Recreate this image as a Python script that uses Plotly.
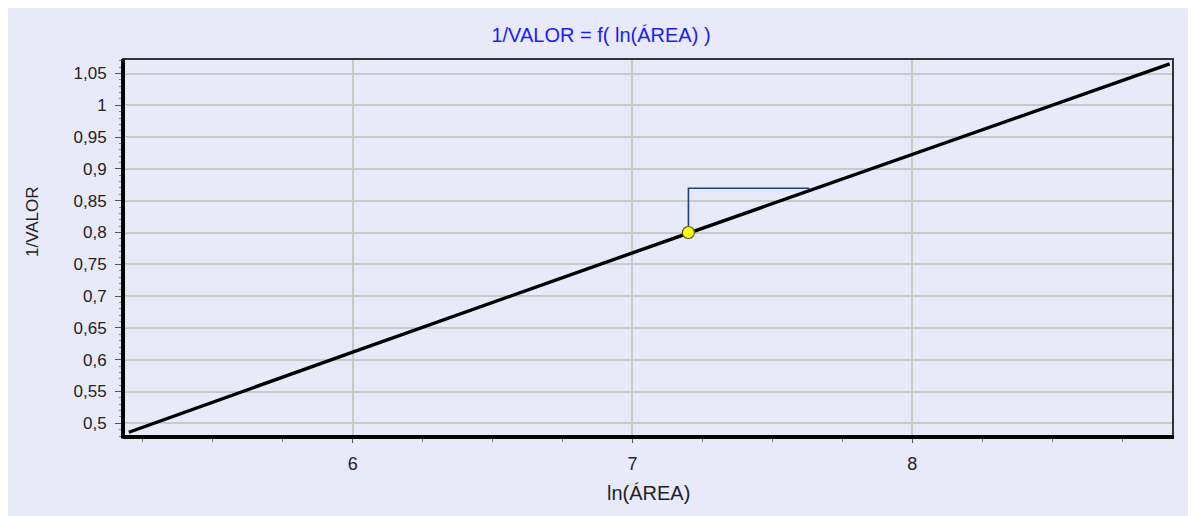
import plotly.graph_objects as go

# ---- data ----
line_x = [5.20, 6.0, 7.0, 8.0, 8.92]
line_y = [0.486, 0.612, 0.768, 0.923, 1.065]

point_x = [7.2]
point_y = [0.800]

bracket_x = [7.2, 7.2, 7.632]
bracket_y = [0.800, 0.8695, 0.8695]

x_tickvals = [6, 7, 8]
x_ticktext = ["6", "7", "8"]
y_tickvals = [0.5, 0.55, 0.6, 0.65, 0.7, 0.75, 0.8, 0.85, 0.9, 0.95, 1.0, 1.05]
y_ticktext = ["0,5", "0,55", "0,6", "0,65", "0,7", "0,75", "0,8", "0,85", "0,9", "0,95", "1", "1,05"]

title_text = "1/VALOR = f( ln(ÁREA) )"
x_title = "ln(ÁREA)"
y_title = "1/VALOR"

# ---- layout geometry (window pixels); the page body adds an 8px offset ----
OFF = 8
WIN_W, WIN_H = 1196, 516
W, H = WIN_W - OFF, WIN_H - OFF
L, R, T, B = 123, 1173, 59, 437
pw, ph = R - L, B - T


def px_x(p):
    return (p - L) / pw


def px_y(p):
    return (B - p) / ph


BG = "#E8EAFA"
FONT = "Liberation Sans"

fig = go.Figure()

fig.add_trace(go.Scatter(x=bracket_x, y=bracket_y, mode="lines",
                         line=dict(color="#1F3F78", width=1.6),
                         hoverinfo="skip", showlegend=False))
fig.add_trace(go.Scatter(x=line_x, y=line_y, mode="lines",
                         line=dict(color="#000000", width=3.4),
                         showlegend=False))
fig.add_trace(go.Scatter(x=point_x, y=point_y, mode="markers",
                         marker=dict(color="#FFFF00", size=12, symbol="circle",
                                     line=dict(color="#5A5A30", width=1.2)),
                         showlegend=False))

fig.update_layout(
    width=W, height=H,
    margin=dict(l=L - OFF, r=WIN_W - R, t=T - OFF, b=WIN_H - B, pad=0),
    paper_bgcolor=BG, plot_bgcolor=BG,
    font=dict(family=FONT, size=17, color="#222222"),
    title=dict(text=title_text, x=(601 - OFF) / W, xanchor="center",
               y=1 - (35 - OFF) / H, yanchor="middle",
               font=dict(family=FONT, size=20, color="#1C1CF5")),
    showlegend=False,
    xaxis=dict(range=[5.179, 8.932], tickmode="array", tickvals=x_tickvals,
               ticktext=x_ticktext, ticks="outside", ticklen=5, tickwidth=1.2,
               tickcolor="#555555", showgrid=True, gridcolor="#C9C9C9", gridwidth=2,
               zeroline=False, showline=False, ticklabelstandoff=5,
               minor=dict(dtick=0.25, tick0=5, ticks="outside", ticklen=4,
                          tickcolor="#777777", showgrid=False),
               tickfont=dict(size=18, color="#222222")),
    yaxis=dict(range=[0.4785, 1.0728], tickmode="array", tickvals=y_tickvals,
               ticktext=y_ticktext, ticks="outside", ticklen=7, tickwidth=1.2,
               tickcolor="#555555", showgrid=True, gridcolor="#C9C9C9", gridwidth=2,
               zeroline=False, showline=False, ticklabelstandoff=5,
               minor=dict(dtick=0.01, tick0=0.5, ticks="outside", ticklen=3,
                          tickcolor="#888888", showgrid=False),
               tickfont=dict(size=17, color="#222222")),
)

# plot frame: thin top/right, thick left/bottom
fig.add_shape(type="rect", xref="paper", yref="paper", x0=0, x1=1, y0=0, y1=1,
              line=dict(color="#333333", width=2), layer="above")
fig.add_shape(type="line", xref="paper", yref="paper", x0=0, x1=0, y0=-0.004, y1=1,
              line=dict(color="#000000", width=4), layer="above")
fig.add_shape(type="line", xref="paper", yref="paper", x0=0, x1=1.001, y0=0, y1=0,
              line=dict(color="#000000", width=4), layer="above")

fig.add_annotation(text=x_title, xref="paper", yref="paper",
                   x=px_x(648), y=px_y(493), xanchor="center", yanchor="middle",
                   showarrow=False, font=dict(family=FONT, size=20, color="#222222"))
fig.add_annotation(text=y_title, xref="paper", yref="paper",
                   x=px_x(33), y=px_y(222), xanchor="center", yanchor="middle",
                   textangle=-90, showarrow=False,
                   font=dict(family=FONT, size=17, color="#222222"))

fig.write_html("out.html")
